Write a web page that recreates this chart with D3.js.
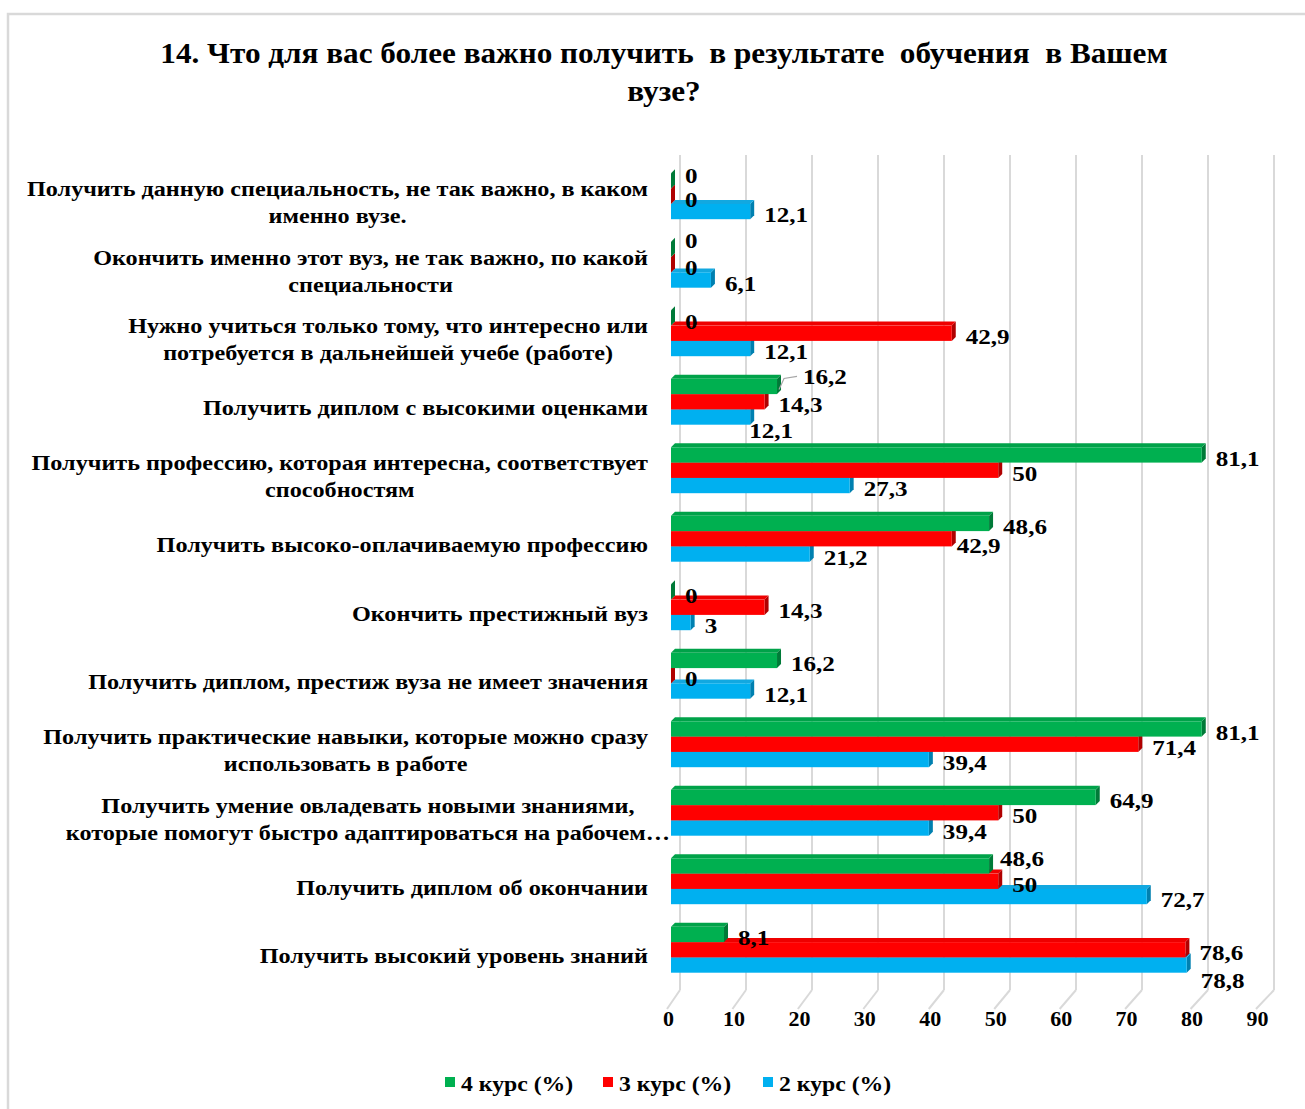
<!DOCTYPE html>
<html>
<head>
<meta charset="utf-8">
<script src="https://cdn.jsdelivr.net/npm/d3@7"></script>
<style>
  body { margin: 0; background: #fff; }
  text { font-family: "Liberation Serif", "Times New Roman", serif; font-weight: bold; fill: #000; white-space: pre; }
</style>
</head>
<body>
<svg id="chart" width="1305" height="1109"></svg>
<script>
// ---- data ----
const titleLines = ["14. Что для вас более важно получить  в результате  обучения  в Вашем", "вузе?"];

const categories = [
  "Получить данную специальность, не так важно, в каком\nименно вузе.",
  "Окончить именно этот вуз, не так важно, по какой\nспециальности",
  "Нужно учиться только тому, что интересно или\nпотребуется в дальнейшей учебе (работе)",
  "Получить диплом с высокими оценками",
  "Получить профессию, которая интересна, соответствует\nспособностям",
  "Получить высоко-оплачиваемую профессию",
  "Окончить престижный вуз",
  "Получить диплом, престиж вуза не имеет значения",
  "Получить практические навыки, которые можно сразу\nиспользовать в работе",
  "Получить умение овладевать новыми знаниями,\nкоторые помогут быстро адаптироваться на рабочем…",
  "Получить диплом об окончании",
  "Получить высокий уровень знаний"
];

const seriesNames = ["4 курс (%)", "3 курс (%)", "2 курс (%)"];
const course4 = [0, 0, 0, 16.2, 81.1, 48.6, 0, 16.2, 81.1, 64.9, 48.6, 8.1];
const course3 = [0, 0, 42.9, 14.3, 50, 42.9, 14.3, 0, 71.4, 50, 50, 78.6];
const course2 = [12.1, 6.1, 12.1, 12.1, 27.3, 21.2, 3, 12.1, 39.4, 39.4, 72.7, 78.8];
const xTicks = [0, 10, 20, 30, 40, 50, 60, 70, 80, 90];

// ---- styling ----
const palette = [
  { front: "#00b050", top: "#00a249", side: "#007a38" },
  { front: "#ff0000", top: "#ee0000", side: "#b00000" },
  { front: "#00b0f0", top: "#12a8e0", side: "#0080b0" }
];
// hand-placed label shifts: [series, category, dx, dy]
const labelShifts = [
  [0, 0, 0, -9], [0, 1, 0, -12], [0, 3, 12, -13], [2, 3, -15, 10],
  [1, 5, -9, 4], [0, 10, -3, -11], [2, 11, 0, 12]
];
// overflowing category label shifted right: [category, dx]
const catShifts = [[9, 22]];

const series = [course4, course3, course2];
const fmt = v => String(v).replace(".", ",");

const svg = d3.select("#chart");

// places a text at (x, y) with a horizontal stretch factor
function placeText(parent, x, y, sx, str, anchor) {
  return parent.append("text")
    .attr("transform", `translate(${x},${y}) scale(${sx},1)`)
    .attr("text-anchor", anchor || "start")
    .attr("dy", "0.35em")
    .text(str);
}

// chart frame
svg.append("path")
  .attr("d", "M8,1109 L8,14 L1305,14")
  .attr("fill", "none").attr("stroke", "#d9d9d9").attr("stroke-width", 2.5);

// title
const titleG = svg.append("g").style("font-size", "30px");
titleLines.forEach((t, i) => {
  titleG.append("text")
    .attr("transform", `translate(664,${63 + i * 38}) scale(1.04,1)`)
    .attr("text-anchor", "middle").text(t);
});

// scales
const xBar = d3.scaleLinear().domain([0, 90]).range([671, 1260]);
const xWall = d3.scaleLinear().domain([0, 90]).range([680, 1274]);
const xFloor = d3.scaleLinear().domain([0, 90]).range([667, 1256]);
const yCat = d3.scaleBand().domain(d3.range(categories.length))
  .range([162, 984]).paddingInner(0.33).paddingOuter(0.165);
const ySer = d3.scaleBand().domain(d3.range(series.length)).range([0, yCat.bandwidth()]);

const wallTop = 155, wallBottom = 990, floorFront = 1009;

// back-wall gridlines and floor lines
const grid = svg.append("g").attr("stroke", "#d9d9d9").attr("stroke-width", 2);
grid.selectAll("line.v").data(xTicks).join("line").attr("class", "v")
  .attr("x1", d => xWall(d)).attr("x2", d => xWall(d))
  .attr("y1", wallTop).attr("y2", wallBottom);
grid.selectAll("line.f").data(xTicks).join("line").attr("class", "f")
  .attr("x1", d => xWall(d)).attr("x2", d => xFloor(d))
  .attr("y1", wallBottom).attr("y2", floorFront);

// x axis labels
const xAxis = d3.axisBottom(xFloor).tickValues(xTicks).tickSize(0).tickPadding(0);
const axG = svg.append("g").attr("transform", `translate(1,${floorFront + 1})`).call(xAxis);
axG.select(".domain").remove();
axG.selectAll("text").style("font-size", "22px").style("font-family", null).attr("fill", null);

// bars (3-D prisms)
const depth = 4;
const bars = svg.append("g");
categories.forEach((c, ci) => {
  const g = bars.append("g").attr("transform", `translate(0,${yCat(ci)})`);
  for (let si = series.length - 1; si >= 0; si--) {
    const v = series[si][ci];
    const x0 = xBar(0), x1 = xBar(v), y = ySer(si), h = ySer.bandwidth();
    const col = palette[si];
    g.append("path")
      .attr("d", `M${x1},${y}L${x1 + depth},${y - depth}L${x1 + depth},${y + h - depth}L${x1},${y + h}Z`)
      .attr("fill", col.side);
    g.append("path")
      .attr("d", `M${x0},${y}L${x0 + depth},${y - depth}L${x1 + depth},${y - depth}L${x1},${y}Z`)
      .attr("fill", col.top);
    g.append("rect").attr("x", x0).attr("y", y).attr("width", x1 - x0).attr("height", h)
      .attr("fill", col.front);
  }
});

// data labels
const labels = svg.append("g").style("font-size", "22px");
categories.forEach((c, ci) => {
  series.forEach((s, si) => {
    const v = s[ci];
    const shift = labelShifts.find(d => d[0] === si && d[1] === ci) || [si, ci, 0, 0];
    const lx = xBar(v) + 14 + shift[2];
    const ly = yCat(ci) + ySer(si) + ySer.bandwidth() / 2 + 3 + shift[3];
    placeText(labels, lx, ly, 1.14, fmt(v));
    if (shift[2] > 6) {
      const x1 = xBar(v), yb = yCat(ci) + ySer(si);
      svg.append("polyline")
        .attr("points", `${x1 + 2},${yb + ySer.bandwidth() * 0.7} ${x1 + 7},${ly + 2} ${lx - 6},${ly}`)
        .attr("fill", "none").attr("stroke", "#a6a6a6").attr("stroke-width", 1.2);
    }
  });
});

// category labels: centred multi-line blocks right-aligned to the axis
const catG = svg.append("g").style("font-size", "22px");
const lineH = 27;
const catStretch = 1.10;
categories.forEach((c, ci) => {
  const lines = c.split("\n");
  const cy = yCat(ci) + yCat.bandwidth() / 2 + 6;
  const cs = catShifts.find(d => d[0] === ci);
  const t = catG.append("text").attr("text-anchor", "middle")
    .attr("transform", `translate(${648 + (cs ? cs[1] : 0)},0) scale(${catStretch},1)`);
  const spans = lines.map((ln, li) =>
    t.append("tspan").attr("y", cy + (li - (lines.length - 1) / 2) * lineH).attr("dy", "0.35em").text(ln));
  const w = d3.max(spans, s => s.node().getComputedTextLength());
  spans.forEach(s => s.attr("x", -w / 2));
});

// legend
const legend = svg.append("g").style("font-size", "22px");
const legendX = [445, 603, 763];
seriesNames.forEach((n, i) => {
  legend.append("rect").attr("x", legendX[i]).attr("y", 1077).attr("width", 10).attr("height", 10)
    .attr("fill", palette[i].front);
  placeText(legend, legendX[i] + 16, 1083, 1.08, n);
});
</script>
</body>
</html>
